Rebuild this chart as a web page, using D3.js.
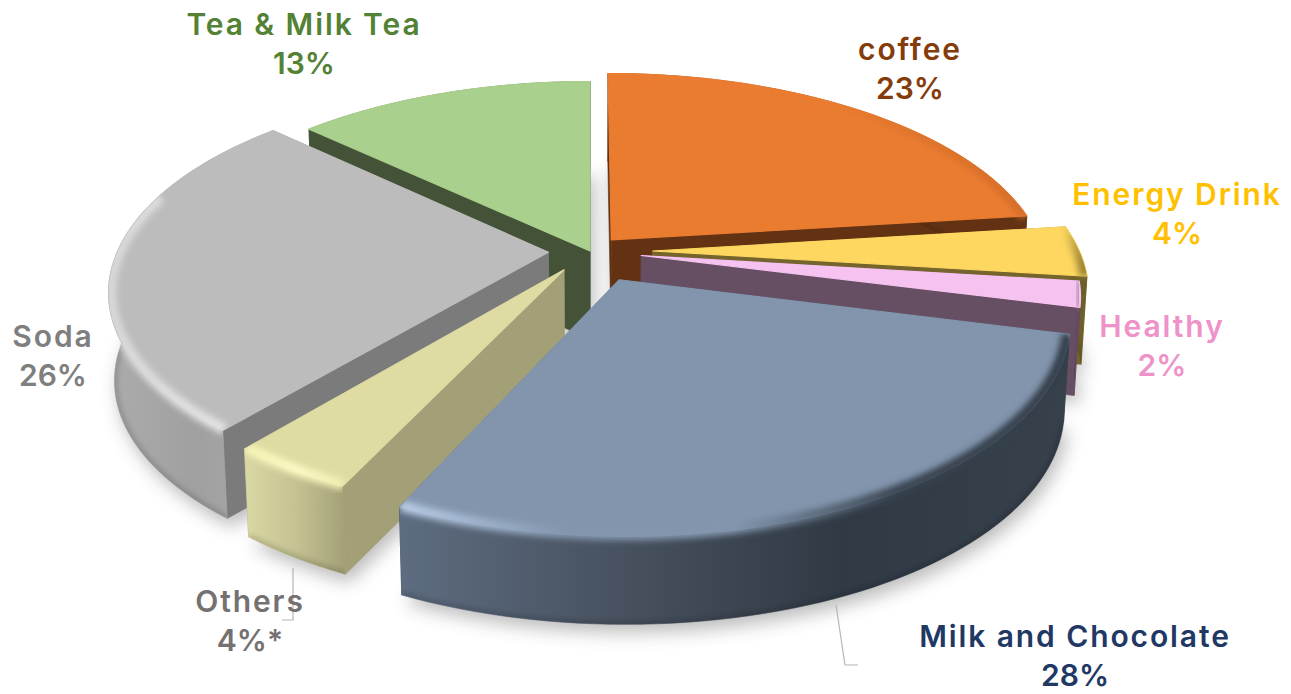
<!DOCTYPE html>
<html>
<head>
<meta charset="utf-8">
<script src="https://cdn.jsdelivr.net/npm/d3@7"></script>
<style>
  html, body { margin: 0; padding: 0; background: #fff; overflow: hidden; }
  text { font-family: Inter, "Open Sans", sans-serif; font-weight: 600; }
</style>
</head>
<body>
<svg id="chart"></svg>
<script>
const categories = ["coffee", "Energy Drink", "Healthy", "Milk and Chocolate", "Others", "Soda", "Tea & Milk Tea"];
const shares = [23, 4, 2, 28, 4, 26, 13];
const suffixes = ["", "", "", "", "*", "", ""];

// look of each slice, same order as categories
const topColors = ["#ea7c30", "#fdd75f", "#f6c3f0", "#8295ad", "#dedba3", "#bcbcbc", "#a9d08c"];
const innerColors = ["#623213", "#75652c", "#664f62", "#353f4b", "#a3a078", "#7b7b7b", "#445337"];
const sideStops = [
    ["#623213", "#623213"],
    ["#7a6a30", "#6d5e2a"],
    ["#6b5168", "#634a60"],
    ["#5d6c80", "#47515f", "#303a45", "#37414c"],
    ["#d8d6a2", "#c4c292", "#a3a078"],
    ["#ababab", "#a0a0a0", "#a8a8a8"],
    ["#445337", "#445337"]
];
const rimStops = [
    ["#ea7c30", "#ea7c30", "#d46e2a"],
    ["#fdd75f", "#8f7a30"],
    ["#f6c3f0", "#8f6f8c"],
    ["#b9cce6", "#8295ad", "#8295ad", "#39434f", "#333d49"],
    ["#f5f3b4", "#fbfac4", "#f0eeb0"],
    ["#d8d8d8", "#dedede", "#e2e2e2"],
    null
];
const rimSpan = [1, 1, 1, 1, 1, 0.72, 1];
const explode = [0.075, 0.145, 0.12, 0.155, 0.11, 0.096, 0];
const radiusScale = [1, 0.985, 0.99, 0.995, 0.97, 0.995, 1];
const paintOrder = [6, 0, 1, 2, 5, 4, 3];

const labelColors = ["#843c0c", "#ffc000", "#ee92c9", "#1f3864", "#767171", "#7f7f7f", "#548235"];
const labelX = [910, 1177, 1162, 1075, 250, 53, 304];
const labelY = [60, 205, 337, 647, 612, 347, 35];

const width = 1291, height = 694;
const cx = 590, cy = 251;
const rx = 433, ry = 200, persp = 0.18, depth = 88, taper = 0.012;

const svg = d3.select("#chart").attr("width", width).attr("height", height).style("display", "block");
const defs = svg.append("defs");

const blur = (id, dev) => defs.append("filter").attr("id", id)
    .attr("x", "-20%").attr("y", "-20%").attr("width", "140%").attr("height", "140%")
    .append("feGaussianBlur").attr("stdDeviation", dev);
blur("shadow", 9);
blur("soft", 3);

const slices = d3.pie().sort(null).value(d => d)(shares);

const project = (X, Y, z) => {
    const s = 1 / (1 + persp * Y);
    return [cx + rx * X * s * (1 - taper * z), cy - ry * Y * s + depth * z];
};

// point on a slice: r 0..1 along radius, angle in radians clockwise from the back, z 0 top..1 bottom
const point = (i, angle, r, z) => {
    const mid = (slices[i].startAngle + slices[i].endAngle) / 2;
    const R = radiusScale[i] * r;
    return project(explode[i] * Math.sin(mid) + R * Math.sin(angle),
                   explode[i] * Math.cos(mid) + R * Math.cos(angle), z);
};

const line = d3.line();
const arcAngles = (i, span = 1) => d3.range(0, 61).map(k => slices[i].startAngle + (slices[i].endAngle - slices[i].startAngle) * span * k / 60);
const arcPts = (i, z, r = 1, span = 1) => arcAngles(i, span).map(a => point(i, a, r, z));
const topPath = (i, z = 0) => line([point(i, 0, 0, z), ...arcPts(i, z)]) + "Z";
const sidePath = i => line([...arcPts(i, 0), ...arcPts(i, 1).reverse()]) + "Z";
const radialPath = (i, a) => line([point(i, a, 0, 0), point(i, a, 1, 0), point(i, a, 1, 1), point(i, a, 0, 1)]) + "Z";

const xGradient = (id, stops, pts) => {
    const xs = pts.map(p => p[0]);
    const g = defs.append("linearGradient").attr("id", id).attr("gradientUnits", "userSpaceOnUse")
        .attr("x1", d3.min(xs)).attr("x2", d3.max(xs)).attr("y1", 0).attr("y2", 0);
    stops.forEach((c, k) => g.append("stop").attr("offset", k / (stops.length - 1)).attr("stop-color", c));
};

// soft shadow from the bottom faces
svg.append("g").attr("filter", "url(#shadow)").attr("opacity", 0.33)
    .attr("transform", "translate(4,8)")
    .selectAll("path").data(paintOrder).join("path")
    .attr("d", i => topPath(i, 1))
    .attr("fill", "#333");

const pie = svg.append("g");

paintOrder.forEach(i => {
    const d = slices[i];
    const g = pie.append("g");
    xGradient(`side${i}`, sideStops[i], arcPts(i, 1));

    const solid = (path, fill, sw = 0.6) => g.append("path").attr("d", path).attr("fill", fill)
        .attr("stroke", fill).attr("stroke-width", sw).attr("stroke-linejoin", "round");

    solid(radialPath(i, d.startAngle), innerColors[i]);
    solid(radialPath(i, d.endAngle), innerColors[i]);
    solid(sidePath(i), `url(#side${i})`);

    const clip = defs.append("clipPath").attr("id", `clip${i}`);
    clip.append("path").attr("d", topPath(i));
    clip.append("path").attr("d", sidePath(i));

    if (rimStops[i]) {
        // dark lip along the bottom of the wall, the top face hides the back of it
        g.append("g").attr("clip-path", `url(#clip${i})`)
            .append("path").attr("d", line(arcPts(i, 1)))
            .attr("fill", "none").attr("stroke", "#000").attr("stroke-opacity", 0.35)
            .attr("stroke-width", 3).attr("filter", "url(#soft)");
    }

    solid(topPath(i), topColors[i], 1.2);

    if (rimStops[i]) {
        const rimPts = arcPts(i, 0, 0.995, rimSpan[i]);
        xGradient(`rim${i}`, rimStops[i], rimPts);
        g.append("g").attr("clip-path", `url(#clip${i})`)
            .append("path").attr("d", line(rimPts))
            .attr("fill", "none").attr("stroke", `url(#rim${i})`)
            .attr("stroke-width", 11).attr("filter", "url(#soft)");
    }
});

// leader lines
const leaders = [
    [[836, 605], [845, 665], [858, 665]],
    [[293, 568], [293, 620], [282, 620]]
];
svg.append("g").selectAll("path").data(leaders).join("path")
    .attr("d", d => line(d)).attr("fill", "none").attr("stroke", "#b5b5b5").attr("stroke-width", 1.2);

// labels
const labels = svg.append("g").selectAll("text").data(categories).join("text")
    .attr("text-anchor", "middle")
    .attr("font-size", 30)
    .attr("fill", (d, i) => labelColors[i]);
labels.append("tspan").attr("x", (d, i) => labelX[i]).attr("y", (d, i) => labelY[i])
    .attr("letter-spacing", 1.9).text(d => d);
labels.append("tspan").attr("x", (d, i) => labelX[i]).attr("y", (d, i) => labelY[i] + 39)
    .text((d, i) => `${shares[i]}%${suffixes[i]}`);
</script>
</body>
</html>
